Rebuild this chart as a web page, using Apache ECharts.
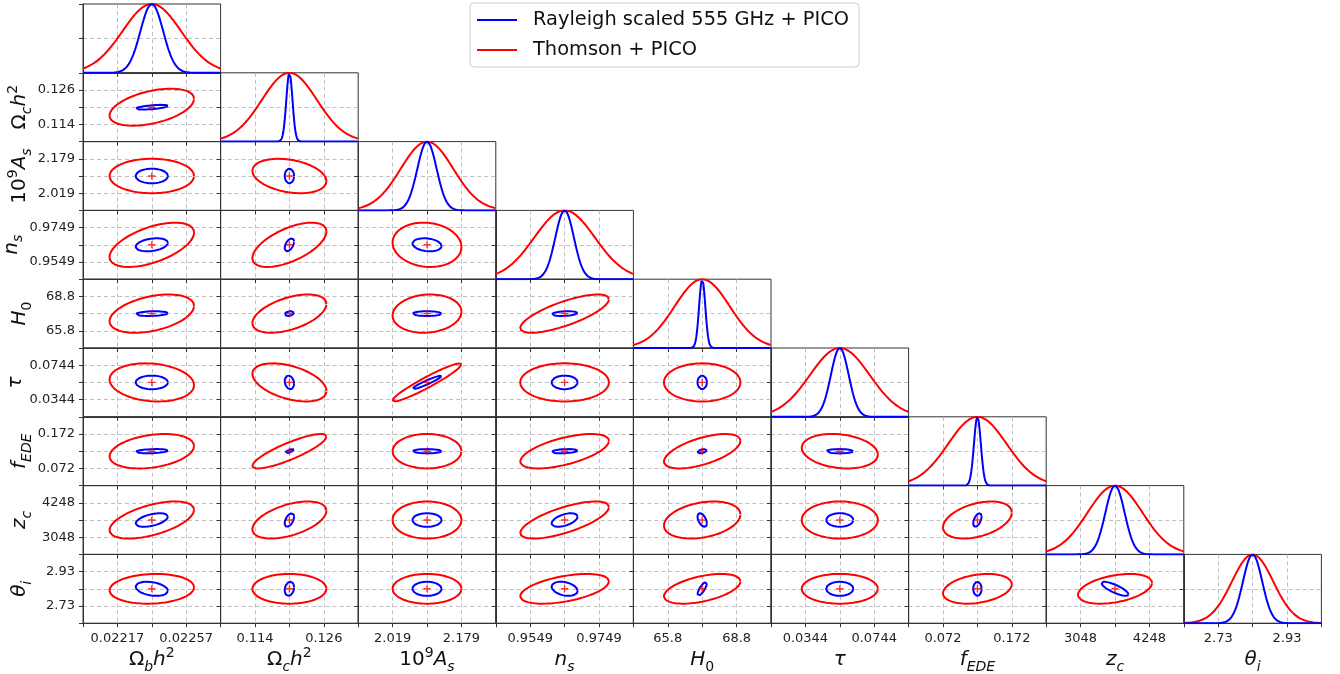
<!DOCTYPE html>
<html><head><meta charset="utf-8">
<script src="https://cdn.jsdelivr.net/npm/echarts@6/dist/echarts.min.js"></script>
<style>html,body{margin:0;padding:0;background:#fff}#chart{width:1340px;height:674px}</style>
</head><body><div id="chart"></div>
<script>
// ---- data ----
const FIDUCIAL = [0.02237, 0.120, 2.099, 0.9649, 67.3, 0.0544, 0.122, 3648, 2.83];
const TICK_STEP = [0.0002, 0.006, 0.08, 0.01, 1.5, 0.02, 0.05, 600, 0.1];
const TICK_LABELS = [['0.02217','0.02257'],['0.114','0.126'],['2.019','2.179'],['0.9549','0.9749'],['65.8','68.8'],['0.0344','0.0744'],['0.072','0.172'],['3048','4248'],['2.73','2.93']];
const AXIS_NAMES = [
  '{u|Ω}{si|b}{i|h}{sp|2}',
  '{u|Ω}{si|c}{i|h}{sp|2}',
  '{u|10}{sp|9}{i|A}{si|s}',
  '{i|n}{si|s}',
  '{i|H}{su|0}',
  '{i|τ}',
  '{i|f}{si|EDE}',
  '{i|z}{si|c}',
  '{i|θ}{si|i}'
];
const NAME_RAYLEIGH = 'Rayleigh scaled 555 GHz + PICO';
const NAME_THOMSON = 'Thomson + PICO';
// 1-sigma widths of the 1D marginals (diagonal panels)
const SIGMA_1D_RAYLEIGH = [0.000066, 0.00054, 0.0224, 0.0027, 0.135, 0.0052, 0.005, 168, 0.028];
const SIGMA_1D_THOMSON  = [0.00017, 0.0048, 0.061, 0.0088, 1.2, 0.0174, 0.0425, 480, 0.06];
// 1-sigma errors used for the 2D contours
const SIGMA_RAYLEIGH = [0.000062, 0.00054, 0.0224, 0.0025, 0.135, 0.0052, 0.004, 156, 0.027];
const SIGMA_THOMSON  = [0.000162, 0.00426, 0.0528, 0.0085, 1.10, 0.0146, 0.033, 426, 0.057];
// correlation coefficients, row j lists corr(param i, param j) for i < j
const CORR_RAYLEIGH = [
  [],
  [0.6],
  [0, 0],
  [0.3, 0.5, -0.2],
  [0.2, 0.3, 0, 0.3],
  [0, -0.2, 0.95, 0, 0],
  [0.3, 0.8, 0, 0.3, 0.5, 0],
  [0.5, 0.5, 0, 0.5, -0.5, 0, 0.5],
  [-0.3, 0.2, 0, -0.3, 0.8, 0, 0, -0.8]
];
const CORR_THOMSON = [
  [],
  [0.45],
  [0, -0.3],
  [0.55, 0.6, -0.1],
  [0.4, 0.5, 0.1, 0.75],
  [-0.15, -0.45, 0.95, 0, 0],
  [0.3, 0.85, 0, 0.6, 0.6, -0.2],
  [0.55, 0.5, 0, 0.7, 0.3, 0, 0.4],
  [0.1, 0, 0, 0.5, 0.5, 0, 0.3, 0.4]
];

// ---- layout ----
const N = 9;
const LEFT = 83, TOP = 4, CW = 137.6, CH = 68.8;
const K2D = Math.sqrt(2.30);
const RED = '#ff0000', BLUE = '#0000ff';
const FONT = 'DejaVu Sans';

const richName = {
  u: {fontSize: 20, fontFamily: FONT, lineHeight: 28, color: '#111'},
  i: {fontSize: 20, fontFamily: FONT, fontStyle: 'italic', lineHeight: 28, color: '#111'},
  si: {fontSize: 14, fontFamily: FONT, fontStyle: 'italic', verticalAlign: 'bottom', lineHeight: 16, color: '#111'},
  su: {fontSize: 14, fontFamily: FONT, verticalAlign: 'bottom', lineHeight: 16, color: '#111'},
  sp: {fontSize: 14, fontFamily: FONT, verticalAlign: 'top', lineHeight: 16, color: '#111'}
};

function norm(i, v) { return (v - FIDUCIAL[i]) / TICK_STEP[i]; }

function ellipse(i, j, sig, corr) {
  const sx = sig[i] / TICK_STEP[i], sy = sig[j] / TICK_STEP[j];
  const r = corr[j][i];
  const q = Math.sqrt(1 - r * r);
  const cx = norm(i, FIDUCIAL[i]), cy = norm(j, FIDUCIAL[j]);
  const pts = [];
  for (let t = 0; t <= 160; t++) {
    const a = 2 * Math.PI * t / 160, c = Math.cos(a), s = Math.sin(a);
    pts.push([cx + K2D * sx * c, cy + K2D * sy * (r * c + q * s)]);
  }
  return pts;
}
function gauss(i, sig) {
  const s = sig[i] / TICK_STEP[i];
  const pts = [];
  for (let t = 0; t <= 400; t++) {
    const x = -2 + 4 * t / 400;
    pts.push([x, Math.exp(-x * x / (2 * s * s))]);
  }
  return pts;
}

const grids = [], xAxes = [], yAxes = [], series = [];
const spine = {color: '#333', width: 1};
const dash = {color: '#b0b0b0', width: 0.8, type: [4, 3]};
const labelStyle = {fontSize: 13, fontFamily: FONT, color: '#222'};

for (let r = 0; r < N; r++) {
  for (let c = 0; c <= r; c++) {
    const g = grids.length;
    grids.push({left: LEFT + c * CW, top: TOP + r * CH, width: CW, height: CH,
      outerBoundsMode: 'none', containLabel: false,
      show: true, borderColor: '#333', borderWidth: 1, backgroundColor: 'transparent'});
    const isBottom = r === N - 1;
    xAxes.push({
      gridIndex: g, type: 'value', min: -2, max: 2, interval: 1,
      axisLine: {show: true, onZero: false, lineStyle: spine},
      axisTick: {show: true, inside: false, length: 4, lineStyle: spine},
      splitLine: {show: true, showMinLine: false, showMaxLine: false, lineStyle: dash},
      axisLabel: {show: isBottom, margin: 9, ...labelStyle,
        formatter: v => v === -1 ? TICK_LABELS[c][0] : (v === 1 ? TICK_LABELS[c][1] : '')},
      name: isBottom ? AXIS_NAMES[c] : '', nameLocation: 'middle', nameGap: 23,
      nameTextStyle: {rich: richName}
    });
    const diag = r === c;
    const isLeft = c === 0 && r > 0;
    yAxes.push(diag ? {
      gridIndex: g, type: 'value', min: 0, max: 1, interval: 0.5,
      axisLine: {show: true, onZero: false, lineStyle: spine},
      axisTick: {show: true, inside: false, length: 4, lineStyle: spine},
      splitLine: {show: true, showMinLine: false, showMaxLine: false, lineStyle: dash},
      axisLabel: {show: false}
    } : {
      gridIndex: g, type: 'value', min: -2, max: 2, interval: 1,
      axisLine: {show: true, onZero: false, lineStyle: spine},
      axisTick: {show: true, inside: false, length: 4, lineStyle: spine},
      splitLine: {show: true, showMinLine: false, showMaxLine: false, lineStyle: dash},
      axisLabel: {show: isLeft, margin: 8, ...labelStyle,
        formatter: v => v === -1 ? TICK_LABELS[r][0] : (v === 1 ? TICK_LABELS[r][1] : '')},
      name: isLeft ? AXIS_NAMES[r] : '', nameLocation: 'middle', nameGap: 49, nameRotate: 90,
      nameTextStyle: {rich: richName}
    });
    const base = {type: 'line', xAxisIndex: g, yAxisIndex: g, showSymbol: false, symbol: 'none',
      silent: true, animation: false, clip: true};
    if (diag) {
      series.push({...base, name: NAME_THOMSON, data: gauss(c, SIGMA_1D_THOMSON),
        lineStyle: {color: RED, width: 2}, itemStyle: {color: RED}});
      series.push({...base, name: NAME_RAYLEIGH, data: gauss(c, SIGMA_1D_RAYLEIGH),
        lineStyle: {color: BLUE, width: 2}, itemStyle: {color: BLUE}});
    } else {
      series.push({...base, name: NAME_THOMSON, data: ellipse(c, r, SIGMA_THOMSON, CORR_THOMSON),
        lineStyle: {color: RED, width: 2}, itemStyle: {color: RED}});
      series.push({...base, name: NAME_RAYLEIGH, data: ellipse(c, r, SIGMA_RAYLEIGH, CORR_RAYLEIGH),
        lineStyle: {color: BLUE, width: 2}, itemStyle: {color: BLUE}});
      series.push({type: 'scatter', name: 'fiducial', xAxisIndex: g, yAxisIndex: g, silent: true,
        animation: false, symbol: 'path://M4,0H6V4H10V6H6V10H4V6H0V4H4Z', symbolSize: 7,
        itemStyle: {color: RED}, data: [[norm(c, FIDUCIAL[c]), norm(r, FIDUCIAL[r])]], z: 5});
    }
  }
}

const chart = echarts.init(document.getElementById('chart'), null, {renderer: 'canvas'});
chart.setOption({
  animation: false,
  backgroundColor: '#fff',
  grid: grids, xAxis: xAxes, yAxis: yAxes, series: series,
  legend: {
    orient: 'vertical', left: 470, top: 3, selectedMode: false,
    data: [{name: NAME_RAYLEIGH}, {name: NAME_THOMSON}],
    icon: 'rect', itemWidth: 40, itemHeight: 2, itemGap: 8,
    padding: [6, 10, 6, 7], borderColor: '#ccc', borderWidth: 1, borderRadius: 4,
    backgroundColor: '#fff',
    textStyle: {fontSize: 19.4, fontFamily: FONT, color: '#111', padding: [0, 0, 0, 11], lineHeight: 22}
  }
});
</script></body></html>
